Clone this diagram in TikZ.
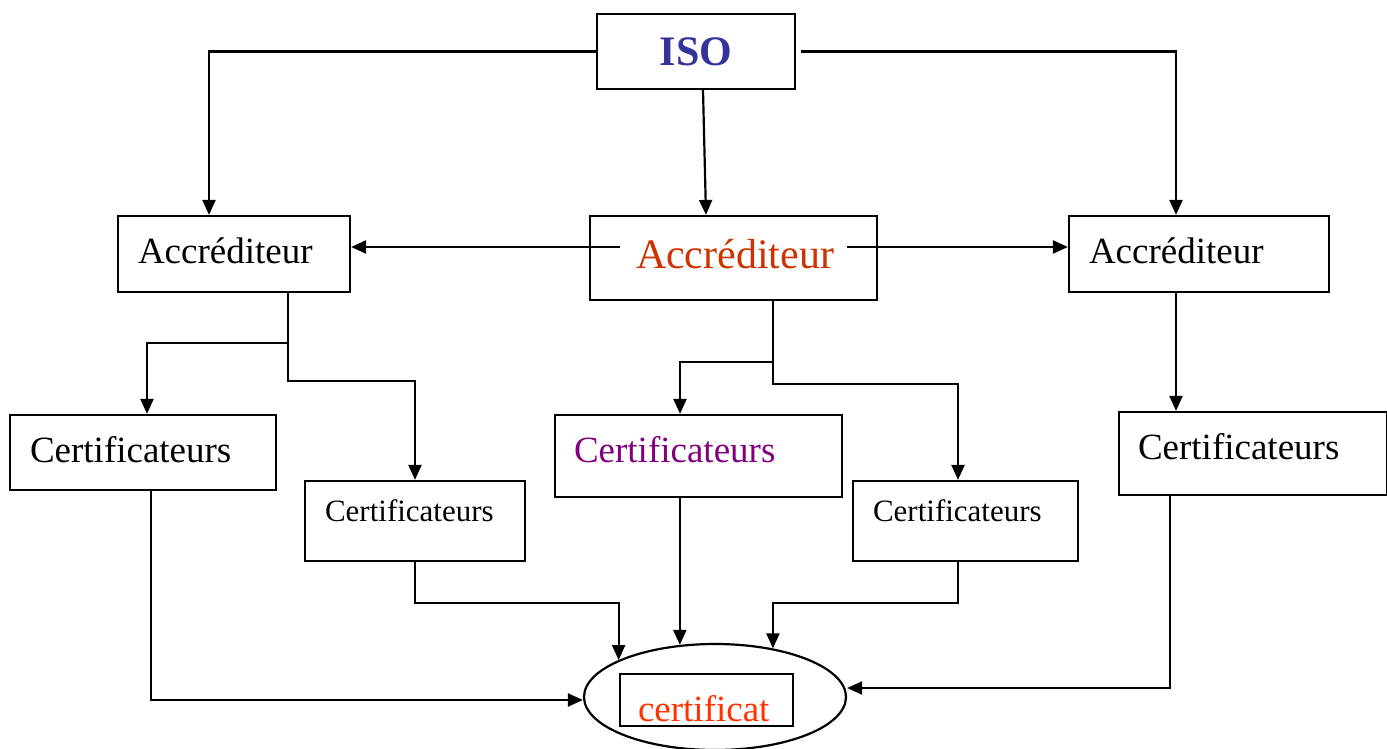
\documentclass[tikz,border=0pt]{standalone}
\usepackage{fontspec}
\setmainfont{Liberation Serif}
\usetikzlibrary{arrows.meta, positioning, shapes.geometric}
\definecolor{isoblue}{HTML}{333399}
\definecolor{accred}{HTML}{CC3300}
\definecolor{certpurple}{HTML}{800080}
\definecolor{certred}{HTML}{FF3300}
\newcommand{\bigtext}{\fontsize{37}{40}\selectfont}
\newcommand{\smalltext}{\fontsize{31}{34}\selectfont}
\newcommand{\hugetext}{\fontsize{42}{44}\selectfont}

\begin{document}
\begin{tikzpicture}[
  x=1pt, y=-1pt,
  box/.style={
    rectangle, draw, line width=2.2pt,
    inner ysep=0pt, align=left, font=\bigtext
  },
  link/.style={line width=2.2pt},
  >={Triangle[length=15pt, width=13pt]}
]
\useasboundingbox (0,0) rectangle (1387,749);

% Nodes
\node[box, minimum width=198pt, minimum height=75pt, align=center,
  text=isoblue, font=\hugetext\bfseries, text height=28pt, text depth=0pt]
  (iso) at (696,51.5) {ISO};

\node[box, minimum width=232pt, minimum height=76pt, inner xsep=20pt,
  text width=192pt, text height=25pt, text depth=6pt]
  (acc1) at (234,254) {Accréditeur};
\node[box, minimum width=287pt, minimum height=84pt, inner xsep=46pt,
  text width=195pt, text=accred, font=\hugetext, text height=28pt, text depth=8pt]
  (acc2) at (733.5,258) {Accréditeur};
\node[box, minimum width=260pt, minimum height=76pt, inner xsep=20pt,
  text width=220pt, text height=25pt, text depth=6pt]
  (acc3) at (1199,254) {Accréditeur};

\node[box, minimum width=266pt, minimum height=75pt, inner xsep=20pt,
  text width=226pt, text height=25pt, text depth=5pt]
  (cert1) at (143,452.5) {Certificateurs};
\node[box, minimum width=220pt, minimum height=80pt, inner xsep=20pt,
  text width=180pt, font=\smalltext, text height=21pt, text depth=20pt]
  (cert2) at (415,521) {Certificateurs};
\node[box, minimum width=287pt, minimum height=82pt, inner xsep=19pt,
  text width=249pt, text=certpurple, text height=25pt, text depth=12pt]
  (cert3) at (698.5,456) {Certificateurs};
\node[box, minimum width=225pt, minimum height=80pt, inner xsep=20pt,
  text width=185pt, font=\smalltext, text height=21pt, text depth=20pt]
  (cert4) at (965.5,521) {Certificateurs};
\node[box, minimum width=268pt, minimum height=83pt, inner xsep=19pt,
  text width=230pt, text height=25pt, text depth=14pt]
  (cert5) at (1253,453.5) {Certificateurs};

\node[draw, ellipse, line width=2.2pt, inner sep=0pt,
  minimum width=262pt, minimum height=106pt]
  (cert) at (715,697) {};
\node[box, minimum width=173pt, minimum height=52pt, inner xsep=18pt,
  text width=137pt, text=certred, text height=42pt, text depth=0pt]
  (certbox) at (706.5,700) {certificat};

% Edges
\draw[link, ->] (iso.west) -| ([xshift=-25pt]acc1.north);
\draw[link, ->] ([xshift=7pt]iso.south) -- ([xshift=-27.5pt]acc2.north);
\draw[link, ->] ([xshift=5pt]iso.east) -| ([xshift=-23pt]acc3.north);

\draw[link, ->] ([xshift=31pt, yshift=11pt]acc2.west) -- ([yshift=7pt]acc1.east);
\draw[link, ->] ([xshift=-31pt, yshift=11pt]acc2.east) -- ([yshift=7pt]acc3.west);

\draw[link, ->] ([xshift=54pt]acc1.south) -- ++(0,50) -| ([xshift=4pt]cert1.north);
\draw[link, ->] ([xshift=54pt]acc1.south) -- ++(0,88) -| (cert2.north);
\draw[link, ->] ([xshift=39.5pt]acc2.south) -- ++(0,61) -| ([xshift=-18.5pt]cert3.north);
\draw[link, ->] ([xshift=39.5pt]acc2.south) -- ++(0,83) -| ([xshift=-7.5pt]cert4.north);
\draw[link, ->] ([xshift=-23pt]acc3.south) -- ([xshift=-77pt]cert5.north);

\draw[link, ->] ([xshift=8pt]cert1.south) |- ([yshift=-3pt]cert.west);
\draw[link, ->] (cert2.south) -- ++(0,41) -| (cert.159);
\draw[link, ->] (cert.124.5 |- cert3.south) -- (cert.124.5);
\draw[link, ->] ([xshift=-7.5pt]cert4.south) -- ++(0,41) -| (cert.40);
\draw[link, ->] ([xshift=-83pt]cert5.south) |- ([yshift=9pt]cert.east);

\end{tikzpicture}
\end{document}
